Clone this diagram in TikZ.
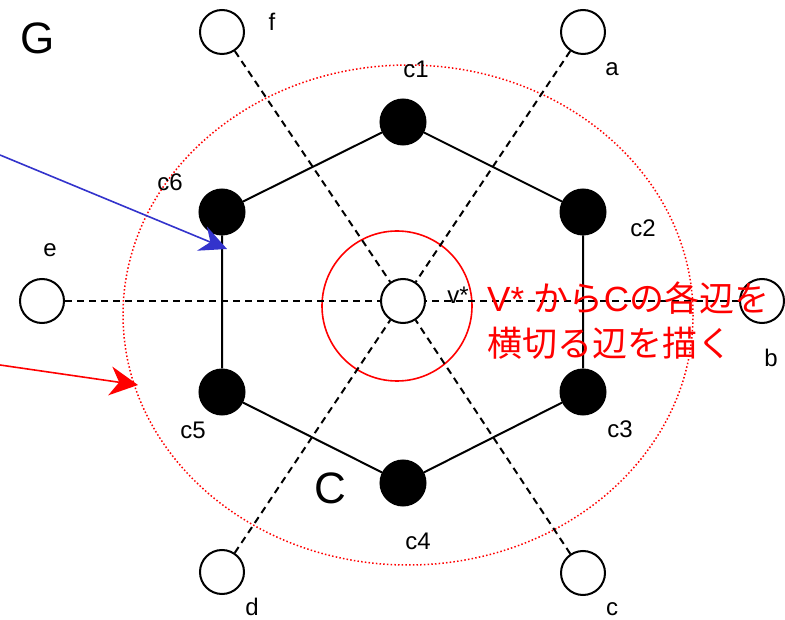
\documentclass[tikz,border=0pt]{standalone}
\usepackage{fontspec}
\setmainfont{Liberation Sans}
\newfontfamily\jpfont{Noto Sans CJK JP}
\usetikzlibrary{arrows.meta,backgrounds}
\definecolor{arrowblue}{RGB}{51,51,204}
\definecolor{pured}{RGB}{255,0,0}
\begin{document}
\begin{tikzpicture}[x=1pt,y=-1pt,
  wnode/.style={circle,draw=black,fill=white,line width=2pt,minimum size=44pt,inner sep=0pt},
  bnode/.style={circle,draw=black,fill=black,line width=2pt,minimum size=45pt,inner sep=0pt},
  lbl/.style={font=\fontsize{24}{28}\selectfont,inner sep=0pt},
  biglbl/.style={font=\fontsize{44}{50}\selectfont,inner sep=0pt},
  cross/.style={draw=black,line width=2pt,dash pattern=on 7pt off 5pt},
  cyc/.style={draw=black,line width=2pt},
  jptext/.style={font=\fontsize{35}{40}\selectfont,text=pured,inner sep=0pt,anchor=west},
  outerell/.style={draw=pured,line width=1.5pt,dash pattern=on 1.5pt off 2.2pt},
  innercirc/.style={draw=pured,line width=1.6pt},
  bluearrow/.style={draw=arrowblue,line width=1.6pt,-{Stealth[length=27pt,width=26pt,inset=9pt]}},
  redarrow/.style={draw=pured,line width=1.6pt,-{Stealth[length=28pt,width=29pt,inset=9pt]}}
]
\useasboundingbox (0,0) rectangle (785,620);

% outer nodes
\node[wnode] (f) at (222,32) {};
\node[wnode] (a) at (583,32) {};
\node[wnode] (e) at (42,301) {};
\node[wnode] (b) at (762,301) {};
\node[wnode] (d) at (222,572) {};
\node[wnode] (c) at (583,573) {};
\node[wnode] (v) at (403,301) {};

% cycle nodes
\node[bnode] (c1) at (403,122) {};
\node[bnode] (c2) at (583,212) {};
\node[bnode] (c3) at (583,392) {};
\node[bnode] (c4) at (403,483) {};
\node[bnode] (c5) at (222,392) {};
\node[bnode] (c6) at (222,212) {};

\begin{pgfonlayer}{background}
  \fill[white] (0,0) rectangle (785,620);
  \draw[outerell] (408,315) ellipse [x radius=285, y radius=250];
  \draw[innercirc] (397,306) circle [radius=75];
  \draw[cross] (f) -- (v);
  \draw[cross] (a) -- (v);
  \draw[cross] (e) -- (v);
  \draw[cross] (b) -- (v);
  \draw[cross] (d) -- (v);
  \draw[cross] (c) -- (v);
  \draw[cyc] (c1) -- (c2) -- (c3) -- (c4) -- (c5) -- (c6) -- (c1);
\end{pgfonlayer}

% labels
\node[biglbl] (lG) at (38,38) {G};
\node[biglbl] (lC) at (330,488) {C};
\node[lbl] (lf) at (272,22) {f};
\node[lbl] (la) at (612,69) {a};
\node[lbl] (le) at (50,250) {e};
\node[lbl] (lb) at (771,358) {b};
\node[lbl] (ld) at (252,607) {d};
\node[lbl] (lc) at (612,609) {c};
\node[lbl] (lc1) at (416,69) {c1};
\node[lbl] (lc2) at (643,228) {c2};
\node[lbl] (lc3) at (620,429) {c3};
\node[lbl] (lc4) at (418,541) {c4};
\node[lbl] (lc5) at (193,430) {c5};
\node[lbl] (lc6) at (170,182) {c6};
\node[lbl] (lv) at (458,295) {v*};

% red text
\node[jptext] (t1) at (487,298) {V* {\jpfont から}C{\jpfont の各辺を}};
\node[jptext] (t2) at (487,343) {\jpfont 横切る辺を描く};

% arrows
\coordinate (bs) at (0,155);
\coordinate (bt) at (227,249);
\draw[bluearrow] (bs) -- (bt);
\coordinate (rs) at (0,365);
\coordinate (rt) at (138,385);
\draw[redarrow] (rs) -- (rt);
\end{tikzpicture}
\end{document}
